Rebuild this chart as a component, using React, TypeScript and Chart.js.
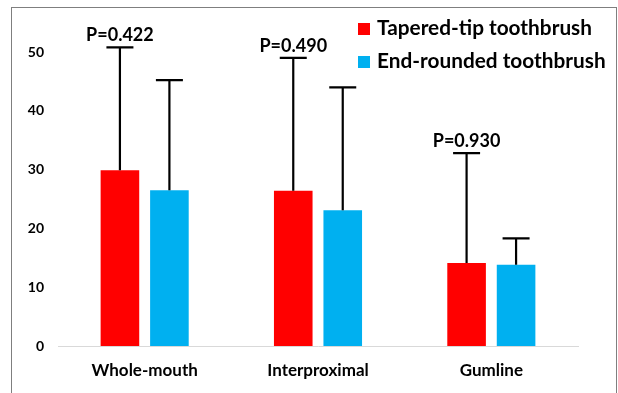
import React, { useEffect, useRef } from "react";
import { Chart, registerables } from "chart.js";

Chart.register(...registerables);

const categories = ["Whole-mouth", "Interproximal", "Gumline"];
const seriesNames = ["Tapered-tip toothbrush", "End-rounded toothbrush"];
const taperedValues = [29.9, 26.4, 14.1];
const roundedValues = [26.5, 23.1, 13.8];
const taperedErrTop = [50.8, 49.0, 32.8];
const roundedErrTop = [45.2, 44.0, 18.3];
const pLabels = ["P=0.422", "P=0.490", "P=0.930"];
const yTicks = [0, 10, 20, 30, 40, 50];

const RED = "#FF0000";
const BLUE = "#00B0F0";
const FONT = "Lato, 'Open Sans', sans-serif";

export default function App() {
  const ref = useRef<HTMLCanvasElement | null>(null);

  useEffect(() => {
    if (!ref.current) return;
    const errTops = [taperedErrTop, roundedErrTop];

    const decor = {
      id: "decor",
      beforeDraw(chart: any) {
        const ctx = chart.ctx;
        ctx.save();
        ctx.fillStyle = "#ffffff";
        ctx.fillRect(0, 0, chart.width, chart.height);
        ctx.strokeStyle = "#7f7f7f";
        ctx.lineWidth = 1;
        ctx.strokeRect(11.5, 7.5, 605, 420);
        ctx.restore();
      },
      afterDatasetsDraw(chart: any) {
        const ctx = chart.ctx;
        const y = chart.scales.y;
        ctx.save();
        ctx.strokeStyle = "#000";
        ctx.lineWidth = 2.2;
        chart.data.datasets.forEach((ds: any, di: number) => {
          const meta = chart.getDatasetMeta(di);
          meta.data.forEach((bar: any, i: number) => {
            const x = bar.x;
            const yTop = y.getPixelForValue(errTops[di][i]);
            const yBar = bar.y;
            ctx.beginPath();
            ctx.moveTo(x, yBar);
            ctx.lineTo(x, yTop);
            ctx.moveTo(x - 13.5, yTop);
            ctx.lineTo(x + 13.5, yTop);
            ctx.stroke();
            if (di === 0) {
              ctx.fillStyle = "#000";
              ctx.font = "bold 18px " + FONT;
              ctx.textAlign = "center";
              ctx.textBaseline = "alphabetic";
              ctx.fillText(pLabels[i], x, yTop - 6);
            }
          });
        });
        // legend
        const colors = [RED, BLUE];
        const rows = [23, 56];
        ctx.font = "bold 20.8px " + FONT;
        ctx.textAlign = "left";
        ctx.textBaseline = "alphabetic";
        seriesNames.forEach((name, k) => {
          ctx.fillStyle = colors[k];
          ctx.fillRect(358, rows[k], 12, 12);
          ctx.fillStyle = "#000";
          ctx.fillText(name, 377, rows[k] + 11.5);
        });
        ctx.restore();
      },
    };

    const chart = new Chart(ref.current, {
      type: "bar",
      data: {
        labels: categories,
        datasets: [
          {
            label: seriesNames[0],
            data: taperedValues,
            backgroundColor: RED,
            categoryPercentage: 0.571,
            barPercentage: 0.78,
          },
          {
            label: seriesNames[1],
            data: roundedValues,
            backgroundColor: BLUE,
            categoryPercentage: 0.571,
            barPercentage: 0.78,
          },
        ],
      },
      options: {
        animation: false,
        responsive: false,
        maintainAspectRatio: false,
        layout: { padding: { left: 0, right: 40, top: 22.6, bottom: 0 } },
        plugins: {
          legend: { display: false },
          tooltip: { enabled: false },
        },
        scales: {
          x: {
            grid: { display: false, drawTicks: false },
            border: { display: true, color: "#d9d9d9", width: 1 },
            ticks: {
              color: "#000",
              font: { family: FONT, size: 17, weight: "bold" },
              padding: 14,
              maxRotation: 0,
            },
            afterFit(scale: any) {
              scale.height = 47;
            },
          },
          y: {
            min: 0,
            max: 55,
            grid: { display: false, drawTicks: false },
            border: { display: false },
            ticks: {
              color: "#000",
              font: { family: FONT, size: 14, weight: "bold" },
              padding: 14,
              stepSize: 10,
            },
            afterBuildTicks(scale: any) {
              scale.ticks = yTicks.map((v) => ({ value: v }));
            },
            afterFit(scale: any) {
              scale.width = 58;
            },
          },
        },
      },
      plugins: [decor],
    });
    return () => chart.destroy();
  }, []);

  return (
    <div style={{ position: "absolute", left: 0, top: 0, width: 618, height: 393 }}>
      <canvas ref={ref} width={618} height={393} style={{ width: 618, height: 393 }} />
    </div>
  );
}
